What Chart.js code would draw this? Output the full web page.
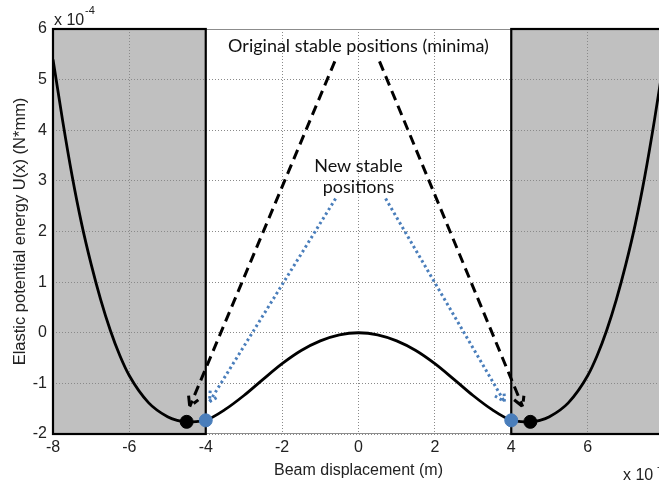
<!DOCTYPE html>
<html>
<head>
<meta charset="utf-8">
<script src="https://cdn.jsdelivr.net/npm/chart.js@4.4.1/dist/chart.umd.min.js"></script>
<style>
  html, body { margin: 0; padding: 0; background: #fff; overflow: hidden; }
  #wrap { width: 680px; height: 482px; }
</style>
</head>
<body>
<div id="wrap"><canvas id="energyChart" width="680" height="482"></canvas></div>
<script>
// beam displacement (x 10^-?) and elastic potential energy (x 10^-4 N*mm)
const displacement = [-8, -7.75, -7.5, -7.25, -7, -6.75, -6.5, -6.25, -6, -5.5, -5, -4.75, -4.5, -4.25, -4,
  -3.5, -3, -2.5, -2, -1.5, -1, -0.5, 0, 0.5, 1, 1.5, 2, 2.5, 3, 3.5,
  4, 4.25, 4.5, 4.75, 5, 5.5, 6, 6.25, 6.5, 6.75, 7, 7.25, 7.5, 7.75, 8];
const energy = [5.4, 4.2, 3.1, 2.15, 1.35, 0.65, 0.05, -0.45, -0.85, -1.38, -1.66, -1.73, -1.76, -1.755, -1.73,
  -1.52, -1.24, -0.92, -0.61, -0.35, -0.16, -0.04, 0, -0.04, -0.16, -0.35, -0.61, -0.92, -1.24, -1.52,
  -1.73, -1.755, -1.76, -1.73, -1.66, -1.38, -0.85, -0.45, 0.05, 0.65, 1.35, 2.15, 3.1, 4.2, 5.4];

const originalMinima = [{ x: -4.5, y: -1.76 }, { x: 4.5, y: -1.76 }];
const newStable = [{ x: -4, y: -1.73 }, { x: 4, y: -1.73 }];

// blocked zones (grey)
const blockedRanges = [[-8, -4], [4, 8]];

const xTicks = [-8, -6, -4, -2, 0, 2, 4, 6, 8];
const yTicks = [-2, -1, 0, 1, 2, 3, 4, 5, 6];

// annotation arrows, [from, to] in data units
const originalArrows = [
  [{ x: -0.62, y: 5.36 }, { x: -4.42, y: -1.46 }],
  [{ x: 0.55, y: 5.36 }, { x: 4.3, y: -1.46 }],
];
const newArrows = [
  [{ x: -0.6, y: 2.65 }, { x: -3.9, y: -1.36 }],
  [{ x: 0.71, y: 2.65 }, { x: 3.82, y: -1.36 }],
];
const labelOriginal = { text: "Original stable positions (minima)", x: 0, y: 5.67 };
const labelNew = [
  { text: "New stable", x: 0, y: 3.3 },
  { text: "positions", x: 0, y: 2.87 },
];

const BLUE = "#4a7ebb";
const GREY = "#c0c0c0";

function drawArrow(ctx, x1, y1, x2, y2, color, width, dash) {
  const ang = Math.atan2(y2 - y1, x2 - x1);
  const head = 11;
  ctx.save();
  ctx.strokeStyle = color;
  ctx.lineWidth = width;
  ctx.setLineDash(dash);
  ctx.beginPath();
  ctx.moveTo(x1, y1);
  ctx.lineTo(x2, y2);
  ctx.stroke();
  ctx.beginPath();
  ctx.moveTo(x2 - head * Math.cos(ang - 0.5), y2 - head * Math.sin(ang - 0.5));
  ctx.lineTo(x2, y2);
  ctx.lineTo(x2 - head * Math.cos(ang + 0.5), y2 - head * Math.sin(ang + 0.5));
  ctx.stroke();
  ctx.restore();
}

const zonesPlugin = {
  id: "zones",
  beforeDraw(chart) {
    const { ctx, chartArea: a, scales } = chart;
    ctx.save();
    ctx.fillStyle = GREY;
    blockedRanges.forEach(([lo, hi]) => {
      const l = scales.x.getPixelForValue(lo);
      const r = scales.x.getPixelForValue(hi);
      ctx.fillRect(l, a.top, r - l, a.bottom - a.top);
    });
    ctx.restore();
  },
  beforeDatasetsDraw(chart) {
    const { ctx, chartArea: a, scales } = chart;
    ctx.save();
    // thin grey axes box
    ctx.strokeStyle = "#8c8c8c";
    ctx.lineWidth = 1;
    ctx.strokeRect(a.left + 0.5, a.top + 0.5, a.right - a.left, a.bottom - a.top - 1);
    // black edges of the grey patches
    ctx.strokeStyle = "#000";
    ctx.lineWidth = 2.2;
    blockedRanges.forEach(([lo, hi]) => {
      const l = scales.x.getPixelForValue(lo);
      const r = scales.x.getPixelForValue(hi);
      ctx.strokeRect(l, a.top, r - l, a.bottom - a.top);
    });
    ctx.restore();
  },
  afterDatasetsDraw(chart) {
    const { ctx, chartArea: a, scales } = chart;
    const px = (p) => [scales.x.getPixelForValue(p.x), scales.y.getPixelForValue(p.y)];
    originalArrows.forEach(([f, t]) => {
      drawArrow(ctx, ...px(f), ...px(t), "#000", 3, [10, 6]);
    });
    newArrows.forEach(([f, t]) => {
      drawArrow(ctx, ...px(f), ...px(t), BLUE, 3, [2.5, 3]);
    });
    ctx.save();
    ctx.fillStyle = "#111";
    ctx.textAlign = "center";
    ctx.textBaseline = "middle";
    ctx.font = "18px Lato";
    let [lx, ly] = px(labelOriginal);
    ctx.fillText(labelOriginal.text, lx, ly);
    labelNew.forEach((l) => {
      const [x, y] = px(l);
      ctx.fillText(l.text, x, y);
    });
    // exponent labels, MATLAB style
    ctx.fillStyle = "#222";
    ctx.textAlign = "left";
    ctx.textBaseline = "alphabetic";
    ctx.font = "16px 'Liberation Sans'";
    ctx.fillText("x 10", a.left + 1, a.top - 4);
    ctx.fillText("x 10", a.right - 41, a.bottom + 46);
    ctx.font = "11px 'Liberation Sans'";
    ctx.fillText("-4", a.left + 32, a.top - 15);
    ctx.fillText("-3", a.right - 7, a.bottom + 36);
    ctx.restore();
  },
};

new Chart(document.getElementById("energyChart"), {
  type: "scatter",
  data: {
    datasets: [
      {
        label: "Original minima",
        data: originalMinima,
        backgroundColor: "#000",
        borderColor: "#000",
        pointRadius: 6.5,
        order: 1,
      },
      {
        label: "New stable positions",
        data: newStable,
        backgroundColor: BLUE,
        borderColor: BLUE,
        pointRadius: 6.5,
        order: 0,
      },
      {
        label: "U(x)",
        data: displacement.map((x, i) => ({ x, y: energy[i] })),
        showLine: true,
        borderColor: "#000",
        borderWidth: 2.8,
        pointRadius: 0,
        cubicInterpolationMode: "monotone",
        order: 2,
      },
    ],
  },
  options: {
    responsive: false,
    animation: false,
    layout: { padding: { top: 29, right: 16, left: 0, bottom: 0 } },
    plugins: { legend: { display: false }, tooltip: { enabled: false } },
    scales: {
      x: {
        type: "linear",
        min: -8,
        max: 8,
        afterBuildTicks: (s) => { s.ticks = xTicks.map((v) => ({ value: v })); },
        afterFit: (s) => { s.height = 48; },
        ticks: { color: "#222", font: { family: "Liberation Sans", size: 16 }, padding: 4 },
        grid: { color: "#8a8a8a", lineWidth: 1, drawTicks: false },
        border: { display: false, dash: [1, 2] },
        title: {
          display: true,
          text: "Beam displacement (m)",
          color: "#222",
          font: { family: "Liberation Sans", size: 16 },
          padding: { top: 0, bottom: 2 },
        },
      },
      y: {
        type: "linear",
        min: -2,
        max: 6,
        afterBuildTicks: (s) => { s.ticks = yTicks.map((v) => ({ value: v })); },
        afterFit: (s) => { s.width = 53; },
        ticks: { color: "#222", font: { family: "Liberation Sans", size: 16 }, padding: 6 },
        grid: { color: "#8a8a8a", lineWidth: 1, drawTicks: false },
        border: { display: false, dash: [1, 2] },
        title: {
          display: true,
          text: "Elastic potential energy U(x) (N*mm)",
          color: "#222",
          font: { family: "Liberation Sans", size: 16.5 },
          padding: { top: 11, bottom: 0 },
        },
      },
    },
  },
  plugins: [zonesPlugin],
});
</script>
</body>
</html>
